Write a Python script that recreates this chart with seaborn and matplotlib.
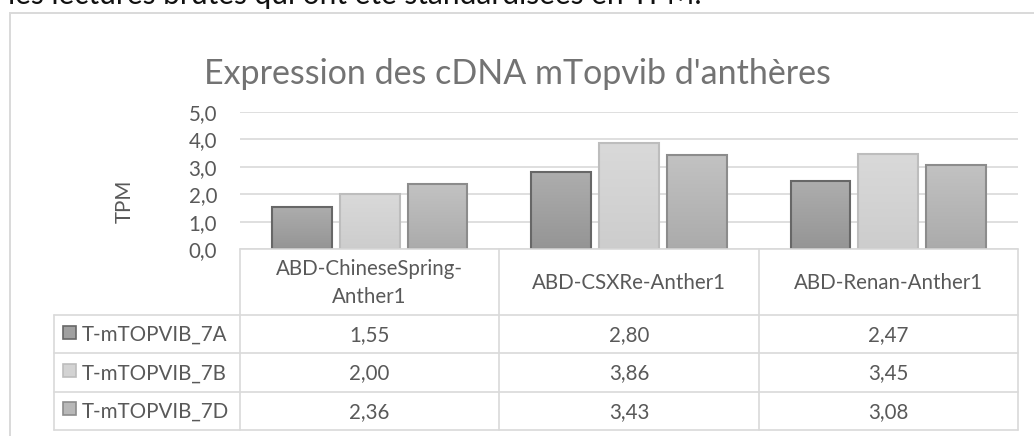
import numpy as np
import pandas as pd
import matplotlib
matplotlib.use("Agg")
import matplotlib.pyplot as plt
import seaborn as sns
from matplotlib.patches import Rectangle
from matplotlib.colors import LinearSegmentedColormap
from matplotlib.ticker import FuncFormatter

# --- data -------------------------------------------------------------------
samples = ["ABD-ChineseSpring-\nAnther1", "ABD-CSXRe-Anther1", "ABD-Renan-Anther1"]
transcripts = ["T-mTOPVIB_7A", "T-mTOPVIB_7B", "T-mTOPVIB_7D"]
tpm_7a = [1.55, 2.80, 2.47]
tpm_7b = [2.00, 3.86, 3.45]
tpm_7d = [2.36, 3.43, 3.08]
y_ticks = [0, 1, 2, 3, 4, 5]

title = "Expression des cDNA mTopvib d'anthères"
y_label = "TPM"
body_text = "les lectures brutes qui ont été standardisées en TPM."

# --- style ------------------------------------------------------------------
fill_top = ["#adadad", "#d9d9d9", "#c2c2c2"]
fill_mid = ["#a0a0a0", "#d3d3d3", "#b8b8b8"]
fill_bottom = ["#959595", "#cdcdcd", "#ababab"]
edge_cols = ["#676767", "#bdbdbd", "#8c8c8c"]
grid_col = "#d9d9d9"
text_col = "#595959"

sns.set_style("white")
plt.rcParams["font.family"] = ["Lato", "DejaVu Sans"]

series = dict(zip(transcripts, [tpm_7a, tpm_7b, tpm_7d]))
df = pd.DataFrame(
    [(s, t, v) for t, vals in series.items() for s, v in zip(samples, vals)],
    columns=["sample", "transcript", "tpm"],
)

W, H = 1034, 436
fig = plt.figure(figsize=(W / 100, H / 100), dpi=100)


def fx(px):
    return px / W


def fy(py):
    return 1 - py / H


# plot area
PL, PR, PT, PB = 240, 1018, 112, 249
cat_w = (PR - PL) / len(samples)


def xu(px):
    """pixel column -> category units"""
    return (px - PL) / cat_w - 0.5


ax = fig.add_axes([fx(PL), fy(PB), fx(PR) - fx(PL), fy(PT) - fy(PB)])
sns.barplot(
    data=df, x="sample", y="tpm", hue="transcript",
    order=samples, hue_order=transcripts, palette=fill_mid,
    width=0.785, gap=0.12, legend=False, ax=ax, zorder=2,
)

grad = np.linspace(0, 1, 64).reshape(-1, 1)
for i, cont in enumerate(ax.containers):
    cmap = LinearSegmentedColormap.from_list(f"g{i}", [fill_bottom[i], fill_top[i]])
    for p in cont.patches:
        x0, w, h = p.get_x(), p.get_width(), p.get_height()
        im = ax.imshow(grad, extent=(x0, x0 + w, 0, h), origin="lower",
                       cmap=cmap, aspect="auto", zorder=1.9,
                       interpolation="bilinear")
        im.set_clip_path(p)
        p.set_facecolor("none")
        p.set_edgecolor(edge_cols[i])
        p.set_linewidth(1.5)

ax.set_xlim(-0.5, 2.5)
ax.set_ylim(y_ticks[0], y_ticks[-1])
ax.set_yticks(y_ticks)
ax.yaxis.set_major_formatter(FuncFormatter(lambda v, _: f"{v:.1f}".replace(".", ",")))
ax.tick_params(axis="y", length=0, pad=16.5, labelsize=14.8, labelcolor=text_col)
ax.set_xticks([])
ax.set_xlabel("")
ax.set_ylabel(y_label, fontsize=14.8, color=text_col, va="center")
ax.yaxis.set_label_coords(-0.148, 0.35)
ax.grid(axis="y", color=grid_col, lw=1.2)
ax.set_axisbelow(True)
for s in ax.spines.values():
    s.set_visible(False)

# data table under the bars
TB = 432
tax = fig.add_axes([fx(54), fy(TB), fx(PR) - fx(54), fy(PB) - fy(TB)])
tax.set_xlim(xu(54), 2.5)
tax.set_ylim(TB - PB, 0)
tax.axis("off")

row_edges = [0, 66, 104.3, 142.7, 181]
line_kw = dict(color=grid_col, lw=1.2, clip_on=False)
tax.plot([-0.5, 2.5], [0, 0], **line_kw)
for y in row_edges[1:]:
    tax.plot([xu(54), 2.5], [y, y], **line_kw)
for xc in [-0.5, 0.5, 1.5, 2.5]:
    tax.plot([xc, xc], [0, row_edges[-1]], **line_kw)
tax.plot([xu(54), xu(54)], [row_edges[1], row_edges[-1]], **line_kw)

for j, s in enumerate(samples):
    tax.text(j, row_edges[1] / 2 + 1, s, ha="center", va="center",
             fontsize=14.8, color=text_col, linespacing=1.45)

sw = 13
for i, t in enumerate(transcripts):
    yc = (row_edges[i + 1] + row_edges[i + 2]) / 2
    tax.add_patch(Rectangle((xu(63), yc - 2 - sw / 2), sw / cat_w, sw,
                            facecolor=fill_mid[i], edgecolor=edge_cols[i],
                            lw=1.2, clip_on=False))
    tax.text(xu(82), yc + 1, t, ha="left", va="center",
             fontsize=14.8, color=text_col)
    for j, v in enumerate(series[t]):
        tax.text(j, yc + 1, f"{v:.2f}".replace(".", ","), ha="center",
                 va="center", fontsize=14.8, color=text_col)

# chart frame, title and surrounding document text
fig.add_artist(Rectangle((fx(10), -0.5), 2, fy(13) + 0.5,
                         transform=fig.transFigure, fill=False,
                         ec=grid_col, lw=1.4))
fig.text(fx(517), fy(84), title, ha="center", va="baseline",
         fontsize=24.5, color="#737373")
fig.text(fx(8), fy(4), body_text, ha="left", va="baseline",
         fontsize=21.5, color="#111111")

fig.savefig("out.png", dpi=100)
